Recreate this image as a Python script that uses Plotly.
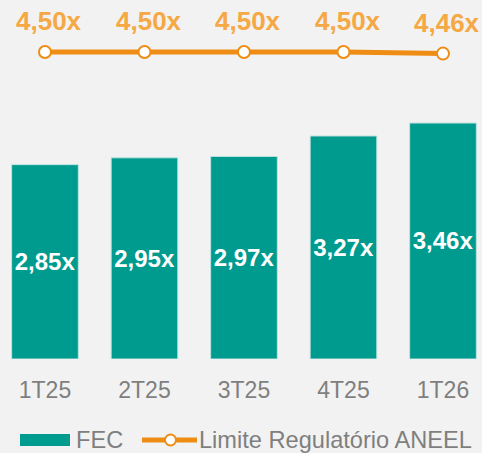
import plotly.graph_objects as go

categories = ["1T25", "2T25", "3T25", "4T25", "1T26"]
fec_values = [2.85, 2.95, 2.97, 3.27, 3.46]
limite_values = [4.50, 4.50, 4.50, 4.50, 4.46]
series_names = ["FEC", "Limite Regulatório ANEEL"]

def fmt(v):
    return f"{v:.2f}".replace(".", ",") + "x"

FONT = "Arial, Liberation Sans, sans-serif"
BG = "#f2f2f2"
TEAL = "#009b8f"
ORANGE = "#ee8c14"
ORANGE_TXT = "#f5a843"
GRAY = "#7f7f7f"

W, H = 482, 453
MB = 94
PH = H - MB  # plot height in px

fig = go.Figure()
fig.add_trace(go.Bar(
    x=categories, y=fec_values, name=series_names[0],
    marker=dict(color=TEAL, line=dict(color="#bfe3e0", width=1)),
    text=[fmt(v) for v in fec_values],
    textposition="inside", insidetextanchor="middle", textangle=0,
    textfont=dict(family=FONT, size=26, color="white", weight="bold"),
    width=0.67, showlegend=False,
))
fig.add_trace(go.Scatter(
    x=categories, y=limite_values, name=series_names[1],
    yaxis="y2", mode="lines+markers",
    line=dict(color=ORANGE, width=5),
    marker=dict(size=12, color="white", line=dict(color=ORANGE, width=2)),
    cliponaxis=False, showlegend=False,
))

# value labels above the line
for c, v in zip(categories, limite_values):
    fig.add_annotation(
        x=c, y=v, xref="x", yref="y2", yshift=31, xshift=4.5, showarrow=False,
        text=fmt(v),
        font=dict(family=FONT, size=26, color=ORANGE_TXT, weight="bold"),
    )

# custom legend (paper coordinates)
def px_x(p):
    return p / W

def px_y(p):
    return 1 - p / PH

LY = 440
fig.add_shape(type="rect", xref="paper", yref="paper",
              x0=px_x(20), x1=px_x(70), y0=px_y(LY - 6), y1=px_y(LY + 6),
              fillcolor=TEAL, line=dict(width=0))
fig.add_annotation(xref="paper", yref="paper", x=px_x(75), y=px_y(LY - 0.5),
                   xanchor="left", yanchor="middle", showarrow=False, borderpad=0,
                   text=series_names[0],
                   font=dict(family=FONT, size=23.6, color=GRAY))
fig.add_shape(type="line", xref="paper", yref="paper",
              x0=px_x(142), x1=px_x(197), y0=px_y(LY), y1=px_y(LY),
              line=dict(color=ORANGE, width=5))
fig.add_shape(type="circle", xref="paper", yref="paper",
              x0=px_x(165), x1=px_x(176), y0=px_y(LY - 5.5), y1=px_y(LY + 5.5),
              fillcolor="white", line=dict(color=ORANGE, width=2))
fig.add_annotation(xref="paper", yref="paper", x=px_x(198), y=px_y(LY - 0.5),
                   xanchor="left", yanchor="middle", showarrow=False, borderpad=0,
                   text=series_names[1],
                   font=dict(family=FONT, size=23.6, color=GRAY))

fig.update_layout(
    width=W, height=H,
    margin=dict(l=0, r=0, t=0, b=MB),
    paper_bgcolor=BG, plot_bgcolor=BG,
    showlegend=False,
    uniformtext=dict(mode=False),
    xaxis=dict(
        range=[-0.452, 4.392], showgrid=False, zeroline=False, showline=False,
        tickfont=dict(family=FONT, size=23, color=GRAY),
        ticklabelstandoff=15,
    ),
    yaxis=dict(range=[0, 5.264], visible=False, showgrid=False),
    yaxis2=dict(range=[-3.175, 5.8], overlaying="y", visible=False, showgrid=False),
    font=dict(family=FONT),
    bargap=0.33,
)
fig.layout.barmode = "group"

fig.write_html("out.html", config={"displayModeBar": False},
               post_script="document.body.style.margin='0px';document.body.style.overflow='hidden';")
